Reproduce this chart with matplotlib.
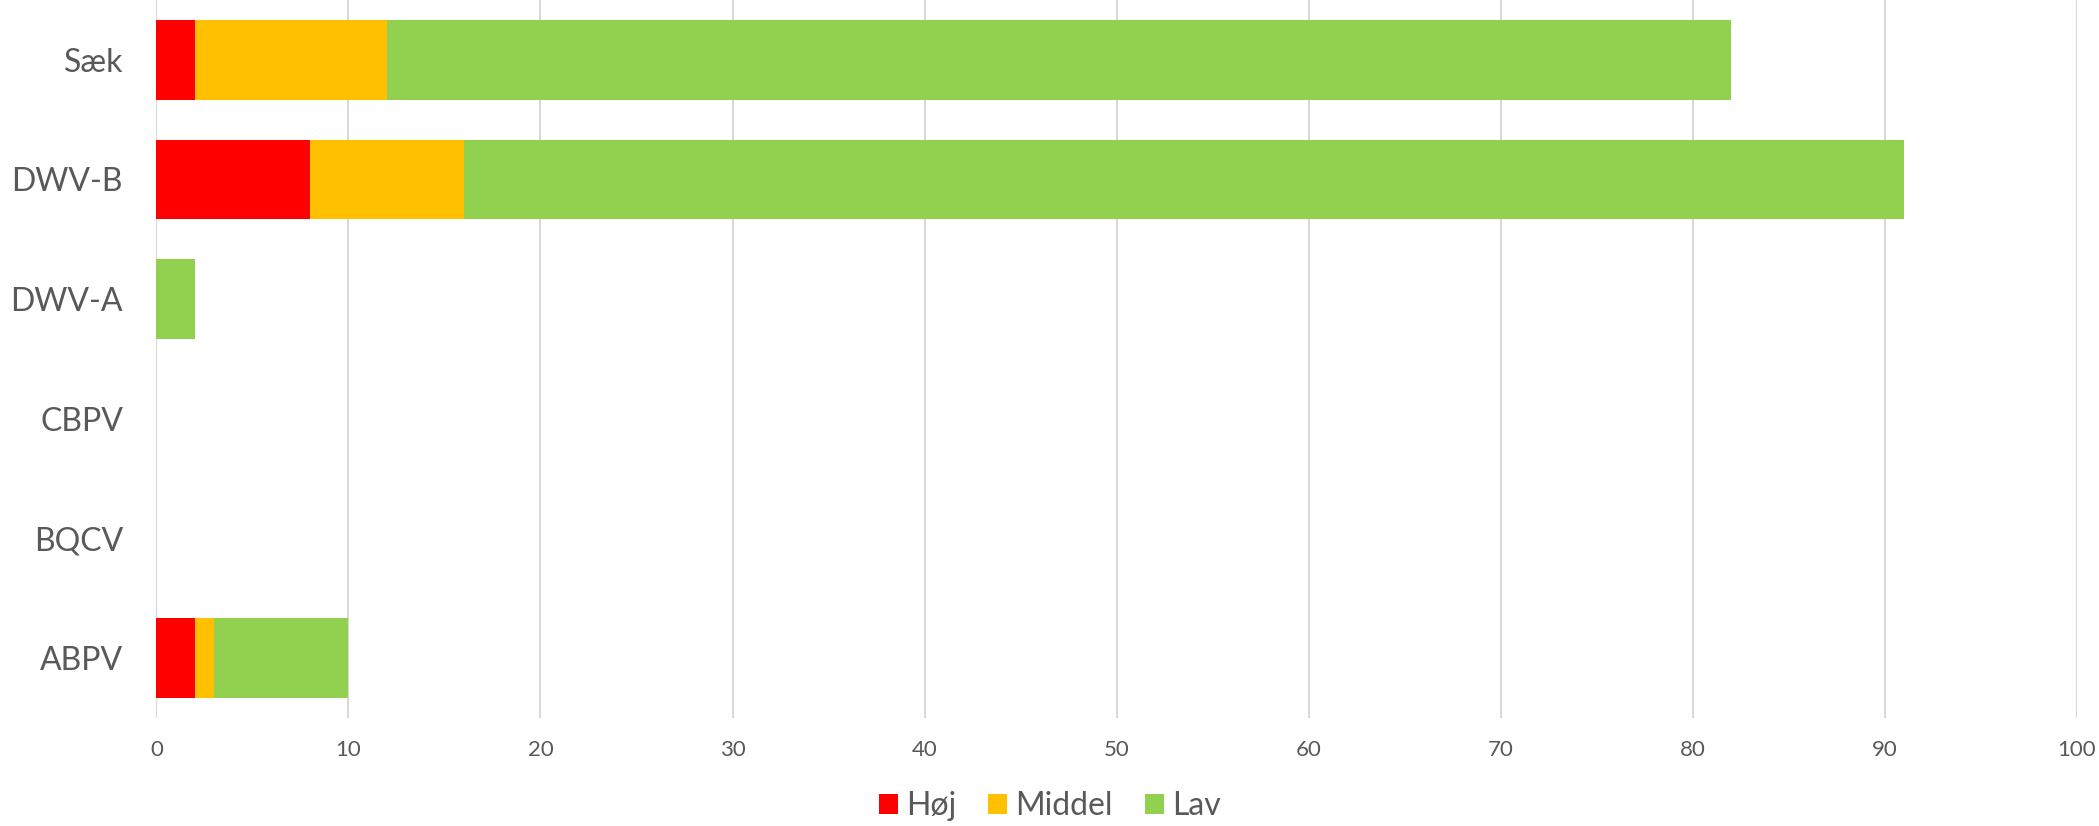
import numpy as np
import matplotlib.pyplot as plt

# Antal fund pr. virus fordelt på niveau
virus = ['ABPV', 'BQCV', 'CBPV', 'DWV-A', 'DWV-B', 'Sæk']
hoej = [2, 0, 0, 0, 8, 2]
middel = [1, 0, 0, 0, 8, 10]
lav = [7, 0, 0, 2, 75, 70]

farver = ['#FF0000', '#FFC000', '#92D050']
serier = [('Høj', hoej), ('Middel', middel), ('Lav', lav)]
tekstfarve = '#595959'

plt.rcParams['font.family'] = ['Lato', 'DejaVu Sans']

fig = plt.figure(figsize=(20.99, 8.26), dpi=100)
ax = fig.add_axes([0.0745, 0.131, 0.915, 0.869])

y = np.arange(len(virus))
venstre = np.zeros(len(virus))
for (navn, vaerdier), farve in zip(serier, farver):
    ax.barh(y, vaerdier, left=venstre, height=0.667, color=farve, label=navn, zorder=3)
    venstre += np.array(vaerdier)

ax.set_xlim(0, 100)
ax.set_ylim(-0.5, 5.5)
ax.set_xticks(np.arange(0, 101, 10))
ax.set_yticks(y)
ax.set_yticklabels(virus)
ax.grid(axis='x', color='#D9D9D9', linewidth=1.5, zorder=0)
for s in ax.spines.values():
    s.set_visible(False)
ax.tick_params(axis='both', length=0)
ax.tick_params(axis='x', labelsize=16, labelcolor=tekstfarve, pad=16)
ax.tick_params(axis='y', labelsize=23, labelcolor=tekstfarve, pad=24)

fig.legend(loc='center', bbox_to_anchor=(0.5, 0.024), ncol=3, frameon=False,
           fontsize=23, labelcolor=tekstfarve, handlelength=0.6, handleheight=0.6,
           handletextpad=0.25, columnspacing=1.0)

fig.savefig('out.png', dpi=100)
